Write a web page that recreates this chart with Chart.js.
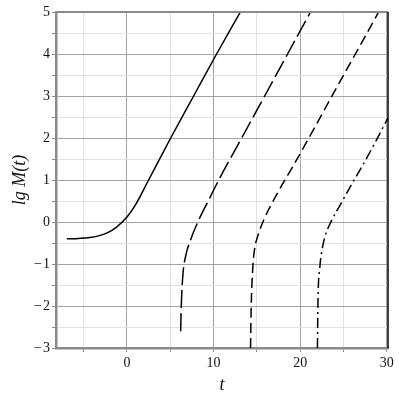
<!DOCTYPE html>
<html>
<head>
<meta charset="utf-8">
<script src="https://cdn.jsdelivr.net/npm/chart.js@4/dist/chart.umd.min.js"></script>
<style>
  html, body { margin: 0; padding: 0; background: #fff; }
  #wrap { width: 400px; height: 400px; }
</style>
</head>
<body>
<div id="wrap"><canvas id="chart"></canvas></div>
<script>
// Values (t, lg M(t)).
const curve1T = [-6.95, -5.6, -4.3, -3.3, -2.3, -1.2, 0.05, 1.1, 2.5, 5.05, 7.7, 10.35, 13.1];
const curve1Y = [-0.40, -0.39, -0.37, -0.33, -0.26, -0.12, 0.13, 0.45, 1.0, 2.0, 3.0, 4.0, 5.0];

const curve2T = [6.2, 6.27, 6.46, 6.77, 7.35, 8.3, 9.46, 10.6, 13.25, 15.9, 18.55, 21.2];
const curve2Y = [-2.6, -2.0, -1.25, -0.82, -0.42, 0.05, 0.53, 1.0, 2.0, 3.0, 4.0, 5.0];

const curve3T = [14.27, 14.35, 14.54, 14.73, 15.1, 15.8, 16.96, 18.1, 19.1, 21.6, 24.0, 26.6, 29.07];
const curve3Y = [-3.0, -2.0, -1.06, -0.66, -0.34, 0.05, 0.53, 0.95, 1.3, 2.22, 3.12, 4.08, 5.0];

const curve4T = [22.0, 22.05, 22.27, 22.5, 22.88, 23.6, 24.75, 25.9, 27.0, 28.5, 30.15];
const curve4Y = [-3.0, -2.0, -1.1, -0.7, -0.34, 0.02, 0.45, 0.88, 1.27, 1.83, 2.48];

const xTicks = [-5, 0, 5, 10, 15, 20, 25, 30];
const xLabelTicks = [0, 10, 20, 30];
const yTicks = [-3, -2.5, -2, -1.5, -1, -0.5, 0, 0.5, 1, 1.5, 2, 2.5, 3, 3.5, 4, 4.5, 5];

const majorGrid = '#a3a3a3';
const minorGrid = '#e2e2e2';
const axisColor = '#8a8a8a';
const serif = '"Liberation Serif", "DejaVu Serif", serif';

function points(ts, ys) {
  return ts.map((t, i) => ({x: t, y: ys[i]}));
}

function fmt(v) {
  return v < 0 ? '\u2212\u200a' + (-v) : String(v);
}

const lineBase = {
  borderColor: '#000',
  borderWidth: 1.5,
  pointRadius: 0,
  fill: false,
  cubicInterpolationMode: 'monotone',
};

// Top and right edges of the frame.
const framePlugin = {
  id: 'frame',
  afterDraw: (chart) => {
    const {ctx, chartArea: {left, right, top, bottom}} = chart;
    ctx.save();
    ctx.strokeStyle = axisColor;
    ctx.lineWidth = 2;
    ctx.beginPath();
    ctx.moveTo(left, top);
    ctx.lineTo(right, top);
    ctx.stroke();
    ctx.strokeStyle = '#000';
    ctx.lineWidth = 1.5;
    ctx.beginPath();
    ctx.moveTo(right, top);
    ctx.lineTo(right, bottom);
    ctx.stroke();
    ctx.restore();
  }
};

const config = {
  type: 'line',
  data: {
    datasets: [
      {...lineBase, data: points(curve1T, curve1Y)},
      {...lineBase, data: points(curve2T, curve2Y), borderDash: [18, 5]},
      {...lineBase, data: points(curve3T, curve3Y), borderDash: [10, 5]},
      {...lineBase, data: points(curve4T, curve4Y), borderDash: [10, 4, 2, 4]},
    ]
  },
  options: {
    responsive: true,
    maintainAspectRatio: false,
    animation: false,
    devicePixelRatio: 1,
    layout: {
      padding: {top: 12, right: 12, left: 0, bottom: 0}
    },
    plugins: {
      legend: {display: false},
      tooltip: {enabled: false}
    },
    scales: {
      x: {
        type: 'linear',
        min: -8.2,
        max: 30.15,
        afterBuildTicks: (scale) => {
          scale.ticks = xTicks.map(value => ({value}));
        },
        afterFit: (scale) => {
          scale.height = 52;
        },
        ticks: {
          autoSkip: false,
          maxRotation: 0,
          padding: 3,
          color: '#111',
          font: {family: serif, size: 14},
          callback: (value) => xLabelTicks.includes(value) ? fmt(value) : ''
        },
        grid: {
          color: (ctx) => ctx.tick && ctx.tick.value % 10 === 0 ? majorGrid : minorGrid,
          tickColor: axisColor,
          tickLength: 4,
          lineWidth: 1
        },
        border: {color: axisColor, width: 2.5},
        title: {
          display: true,
          text: 't',
          color: '#111',
          font: {family: serif, size: 18, style: 'italic'},
          padding: {top: 0, bottom: 4}
        }
      },
      y: {
        min: -3,
        max: 5,
        afterBuildTicks: (scale) => {
          scale.ticks = yTicks.map(value => ({value}));
        },
        afterFit: (scale) => {
          scale.width = 56;
        },
        ticks: {
          autoSkip: false,
          padding: 2,
          color: '#111',
          font: {family: serif, size: 14},
          callback: (value) => Number.isInteger(value) ? fmt(value) : ''
        },
        grid: {
          color: (ctx) => ctx.tick && Number.isInteger(ctx.tick.value) ? majorGrid : minorGrid,
          tickColor: axisColor,
          tickLength: 4,
          lineWidth: 1
        },
        border: {color: axisColor, width: 2.5},
        title: {
          display: true,
          text: 'lg M(t)',
          color: '#111',
          font: {family: serif, size: 18, style: 'italic'},
          padding: {top: 9, bottom: 0}
        }
      }
    }
  },
  plugins: [framePlugin]
};

new Chart(document.getElementById('chart'), config);
</script>
</body>
</html>
